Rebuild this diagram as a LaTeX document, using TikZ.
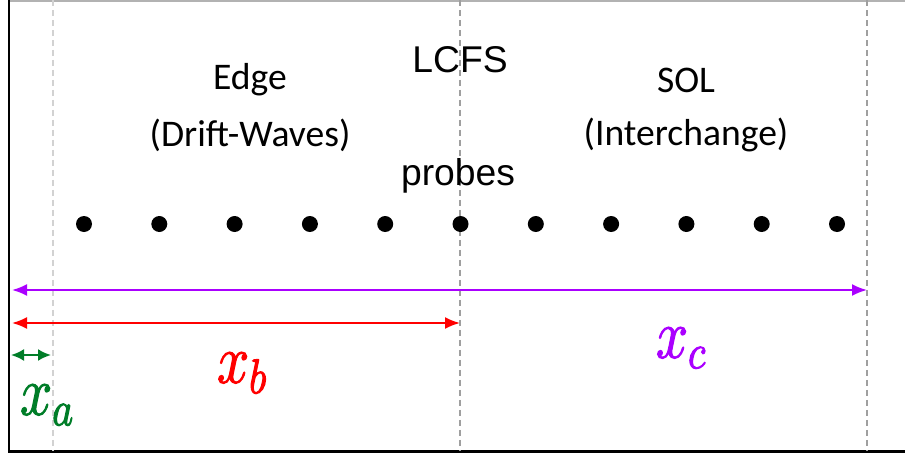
\RequirePackage{fix-cm}
\documentclass[tikz,border=0pt]{standalone}
\usepackage{fontspec}
\newfontfamily\calfont{Carlito}
\newfontfamily\arialfont{Liberation Sans}
\usetikzlibrary{arrows.meta}

\definecolor{spanviolet}{RGB}{170,0,255}
\definecolor{spangreen}{RGB}{0,125,40}

\tikzset{
    separatrix/.style={line width=1.1pt,dash pattern=on 0.12cm off 0.08cm},
    span/.style={line width=1.1pt,
        {Latex[length=0.3cm,width=0.24cm]}-{Latex[length=0.3cm,width=0.24cm]}},
    shortspan/.style={line width=1.2pt,
        {Latex[length=0.26cm,width=0.24cm]}-{Latex[length=0.26cm,width=0.24cm]}},
    region/.style={font=\calfont\fontsize{21.4}{25}\selectfont,inner sep=0pt},
    probe/.style={circle,fill=black,minimum size=0.32cm,inner sep=0pt},
    width label/.style={inner sep=0pt}
}
\newcommand{\widthlabel}[1]{\scalebox{1}[1.2]{\fontsize{33}{40}\selectfont
    \special{pdf:literal direct 0.6 w 2 Tr}$#1$\special{pdf:literal direct 0 Tr}}}

\begin{document}
\begin{tikzpicture}[x=1cm,y=1cm]
    \useasboundingbox (0,0) rectangle (18.1,9.14);

    \draw[gray!60,line width=0.8pt] (0.18,9.12) -- (18.1,9.12);
    \draw[line width=1.7pt] (0.18,9.14) -- (0.18,0.12) -- (18.1,0.12);

    \coordinate (xtop) at (1.06,9.14);
    \coordinate (xbot) at (1.06,0.12);
    \coordinate (ltop) at (9.2,9.14);
    \coordinate (lbot) at (9.2,0.12);
    \coordinate (ftop) at (17.34,9.14);
    \coordinate (fbot) at (17.34,0.12);
    \draw[separatrix,gray!35] (xtop) -- (xbot);
    \draw[separatrix,gray!75] (ltop) -- (lbot);
    \draw[separatrix,gray!75] (ftop) -- (fbot);

    \node[region] (edge) at (5.0,7.54) {Edge};
    \node[region] (drift) at (5.0,6.44) {(Drift-Waves)};
    \node[region] (sol) at (13.72,7.54) {SOL};
    \node[region] (inter) at (13.72,6.44) {(Interchange)};
    \node[font=\arialfont\fontsize{21.2}{25}\selectfont,inner sep=0pt] (lcfs)
        at (9.2,7.94) {LCFS};
    \node[font=\arialfont\fontsize{21.2}{25}\selectfont,inner sep=0pt] (probes)
        at (9.16,5.62) {probes};

    \foreach \i in {0,...,10}
        \node[probe] (p\i) at (1.68+1.506*\i,4.66) {};

    \coordinate (c0) at (0.24,3.34);
    \coordinate (b0) at (0.24,2.68);
    \coordinate (a0) at (0.22,2.04);
    \draw[span,spanviolet] (c0) -- (c0 -| ftop);
    \draw[span,red] (b0) -- (b0 -| ltop);
    \draw[shortspan,spangreen] (a0) -- ([xshift=-0.04cm]a0 -| xtop);

    \node[width label,text=spanviolet] (xclabel) at (13.62,2.18) {\widthlabel{x_c}};
    \node[width label,text=red] (xblabel) at (4.84,1.68) {\widthlabel{x_b}};
    \node[width label,text=spangreen] (xalabel) at (0.94,1.04) {\widthlabel{x_a}};
\end{tikzpicture}
\end{document}
